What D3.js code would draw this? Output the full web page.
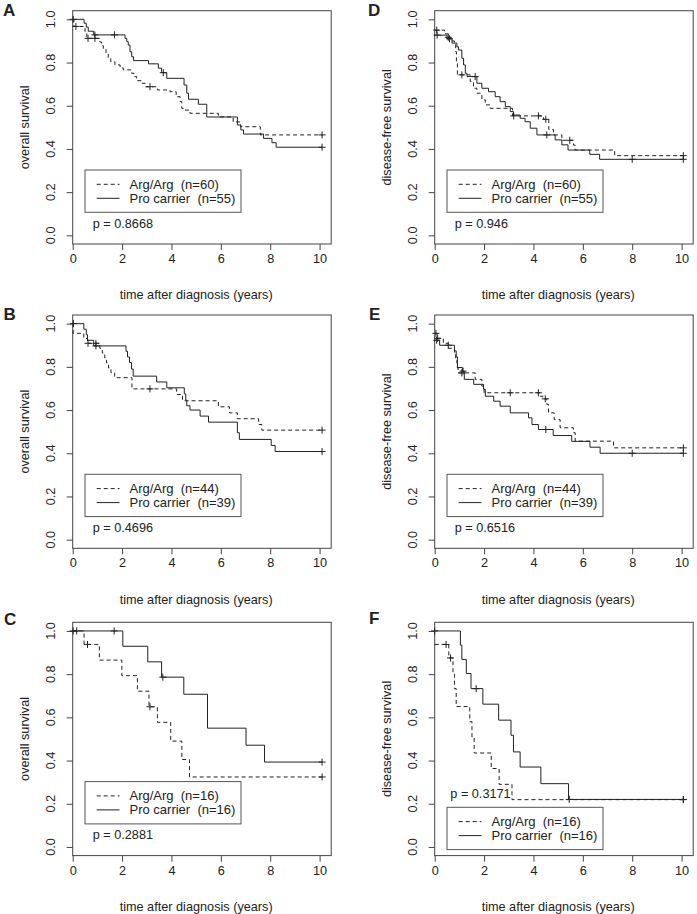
<!DOCTYPE html>
<html><head><meta charset="utf-8">
<script src="https://cdn.jsdelivr.net/npm/d3@7/dist/d3.min.js"></script>
<style>
body{margin:0;background:#fff;}
text{font-family:"Liberation Sans",Arial,sans-serif;fill:#222;}
</style></head>
<body>
<script>
// ---------- data (time in years, survival proportion) ----------
const groupLabels = ["Arg/Arg", "Pro carrier"];
const xTicks = [0, 2, 4, 6, 8, 10];
const yTicks = [0, 0.2, 0.4, 0.6, 0.8, 1.0];

const A_arg = [[0,1],[0.05,0.967],[0.5,0.943],[0.57,0.912],[1.1,0.895],[1.17,0.878],[1.24,0.862],[1.35,0.84],[1.44,0.82],[1.54,0.804],[1.71,0.789],[1.92,0.775],[2.05,0.766],[2.39,0.75],[2.48,0.735],[2.59,0.716],[2.8,0.704],[2.93,0.688],[3.43,0.673],[3.94,0.665],[4.19,0.642],[4.35,0.619],[4.42,0.588],[4.48,0.58],[4.75,0.565],[5.9,0.548],[6.5,0.525],[6.8,0.503],[7.6,0.465]];
const A_argCens = [0.13, 0.62, 0.9, 3.13, 10.1];
const A_pro = [[0,1],[0.46,0.982],[0.55,0.964],[0.63,0.945],[0.85,0.928],[2.12,0.912],[2.19,0.897],[2.25,0.881],[2.32,0.85],[2.39,0.827],[2.46,0.809],[3.07,0.794],[3.47,0.774],[3.6,0.753],[3.81,0.727],[4.51,0.696],[4.62,0.658],[4.69,0.63],[5.09,0.607],[5.43,0.548],[6.67,0.511],[6.81,0.488],[6.92,0.469],[7.73,0.449],[8.07,0.429],[8.24,0.408]];
const A_proCens = [0.02, 0.9, 1.69, 3.67, 10.1];

const B_arg = [[0,1],[0.02,0.955],[0.45,0.932],[0.6,0.909],[1.1,0.886],[1.2,0.864],[1.3,0.841],[1.37,0.818],[1.45,0.795],[1.55,0.773],[1.7,0.75],[2.4,0.698],[4.21,0.672],[4.45,0.643],[5.9,0.615],[6.35,0.587],[6.67,0.56],[7.53,0.533],[7.66,0.507]];
const B_argCens = [0.62, 0.94, 3.13, 10.1];
const B_pro = [[0,1],[0.45,0.974],[0.55,0.949],[0.6,0.923],[0.85,0.897],[2.16,0.872],[2.22,0.846],[2.3,0.82],[2.38,0.79],[2.45,0.757],[3.4,0.73],[3.81,0.703],[4.52,0.675],[4.58,0.646],[4.62,0.62],[4.75,0.6],[5.16,0.572],[5.5,0.544],[6.67,0.495],[6.75,0.464],[8.04,0.436],[8.2,0.408]];
const B_proCens = [0.03, 0.94, 10.1];

const C_arg = [[0,1],[0.46,0.9375],[1.08,0.865],[1.99,0.793],[2.62,0.721],[3.09,0.649],[3.43,0.577],[3.97,0.49],[4.42,0.405],[4.73,0.324]];
const C_argCens = [0.6, 3.13, 10.1];
const C_pro = [[0,1],[2.03,0.929],[3.04,0.857],[3.6,0.786],[4.5,0.707],[5.46,0.55],[7.02,0.471],[7.77,0.393]];
const C_proCens = [0.02, 0.16, 1.68, 3.65, 10.1];

const D_arg = [[0,0.95],[0.4,0.933],[0.55,0.917],[0.65,0.9],[0.8,0.883],[0.85,0.85],[0.88,0.8],[0.92,0.743],[1.44,0.712],[1.57,0.681],[1.71,0.658],[1.91,0.627],[2.05,0.604],[2.25,0.588],[3.15,0.553],[4.41,0.537],[4.62,0.49],[4.81,0.465],[5.15,0.44],[5.62,0.418],[5.69,0.395],[7.29,0.369]];
const D_argCens = [0.08, 0.55, 1.1, 3.2, 4.2, 4.5, 5.47, 10.07];
const D_pro = [[0,0.927],[0.5,0.91],[0.7,0.89],[0.9,0.873],[0.96,0.858],[1.1,0.82],[1.17,0.789],[1.24,0.75],[1.31,0.735],[1.71,0.704],[1.91,0.681],[2.18,0.665],[2.45,0.642],[2.65,0.619],[2.86,0.596],[3.06,0.573],[3.19,0.557],[3.46,0.542],[3.66,0.526],[3.87,0.496],[4.14,0.465],[4.88,0.442],[5.15,0.419],[5.4,0.395],[6.28,0.375],[6.68,0.352]];
const D_proCens = [0.1, 0.6, 1.64, 4.54, 8.0, 10.07];

const E_arg = [[0,0.955],[0.1,0.932],[0.35,0.909],[0.55,0.886],[0.8,0.864],[0.85,0.841],[0.9,0.818],[0.92,0.795],[0.95,0.772],[1.64,0.742],[1.91,0.711],[2.0,0.68],[4.27,0.664],[4.38,0.652],[4.54,0.626],[4.61,0.587],[4.84,0.556],[5.08,0.518],[5.62,0.495],[5.69,0.456],[7.24,0.425]];
const E_argCens = [0.05, 0.12, 1.1, 3.06, 4.2, 4.48, 10.07];
const E_pro = [[0,0.923],[0.2,0.9],[0.8,0.874],[0.87,0.846],[0.92,0.797],[1.12,0.78],[1.2,0.742],[1.58,0.719],[1.98,0.696],[2.05,0.664],[2.39,0.641],[2.65,0.618],[3.06,0.587],[3.8,0.564],[3.94,0.533],[4.2,0.51],[4.8,0.482],[5.55,0.455],[6.29,0.428],[6.7,0.4]];
const E_proCens = [0.08, 0.55, 1.15, 4.5, 8.0, 10.07];

const F_arg = [[0,0.9375],[0.57,0.875],[0.74,0.8],[0.8,0.733],[0.87,0.65],[1.42,0.58],[1.51,0.509],[1.6,0.435],[2.29,0.363],[2.61,0.29],[3.13,0.219]];
const F_argCens = [0.46, 0.64, 10.07];
const F_pro = [[0,1],[1.04,0.934],[1.1,0.868],[1.28,0.803],[1.47,0.733],[1.95,0.661],[2.59,0.587],[3.09,0.517],[3.19,0.44],[3.46,0.37],[4.3,0.293],[5.42,0.22]];
const F_proCens = [0.0, 1.68, 5.45, 10.07];

const panelLetters = ["A","B","C","D","E","F"];
const yTitles = ["overall survival","overall survival","overall survival","disease-free survival","disease-free survival","disease-free survival"];
const pValues = ["p = 0.8668","p = 0.4696","p = 0.2881","p = 0.946","p = 0.6516","p = 0.3171"];
const nArg = [60, 44, 16, 60, 44, 16];
const nPro = [55, 39, 16, 55, 39, 16];
const argCurves = [A_arg, B_arg, C_arg, D_arg, E_arg, F_arg];
const argCens = [A_argCens, B_argCens, C_argCens, D_argCens, E_argCens, F_argCens];
const proCurves = [A_pro, B_pro, C_pro, D_pro, E_pro, F_pro];
const proCens = [A_proCens, B_proCens, C_proCens, D_proCens, E_proCens, F_proCens];

// ---------- layout ----------
const W = 697, H = 914;
const colLeft = [72.7, 434.7];
const rowTop = [10.7, 315, 622.3];
const boxW = 258.5, boxH = 233.3;
const letterPos = [[3,15.5],[3.5,320],[4,624.5],[368,15.5],[369,320],[369,624]];
const fs = 12.7;

const svg = d3.select("body").append("svg").attr("width", W).attr("height", H);

function survAt(steps, t){
  let v = steps[0][1];
  for (const s of steps){ if (s[0] <= t) v = s[1]; }
  return v;
}

for (let i = 0; i < 6; i++){
  const col = Math.floor(i/3), row = i % 3;
  const L = colLeft[col], T = rowTop[row];
  const g = svg.append("g");
  const x = d3.scaleLinear().domain([0, 10.47]).range([L, L + boxW]);
  const y = d3.scaleLinear().domain([-0.04, 1.04]).range([T + boxH, T]);

  // box
  g.append("rect").attr("x", L).attr("y", T).attr("width", boxW).attr("height", boxH)
    .attr("fill","none").attr("stroke","#444").attr("stroke-width",1);

  // x axis
  const xa = g.append("g").attr("transform", `translate(0,${T+boxH})`)
    .call(d3.axisBottom(x).tickValues(xTicks).tickSize(6).tickPadding(4).tickFormat(d3.format("d")));
  xa.select(".domain").remove();
  xa.selectAll("line").attr("stroke","#444");
  xa.selectAll("text").attr("font-size",fs).attr("fill","#222")
    .style("font-family",'"Liberation Sans",Arial,sans-serif');

  // y axis
  const ya = g.append("g").attr("transform", `translate(${L},0)`)
    .call(d3.axisLeft(y).tickValues(yTicks).tickSize(6).tickFormat(d3.format(".1f")));
  ya.select(".domain").remove();
  ya.selectAll("line").attr("stroke","#444");
  ya.selectAll("text").remove();
  g.selectAll(".ylab").data(yTicks).join("text")
    .attr("transform", d => `translate(${L-22},${y(d)}) rotate(-90)`)
    .attr("dy","0.35em").attr("text-anchor","middle").attr("font-size",fs)
    .text(d3.format(".1f"));

  // titles
  g.append("text").attr("x", L + (x(10)-x(0))/2).attr("y", T + boxH + 51).attr("dy","0.35em")
    .attr("text-anchor","middle").attr("font-size",fs).text("time after diagnosis (years)");
  g.append("text").attr("transform", `translate(${L-48},${T+boxH/2}) rotate(-90)`)
    .attr("dy","0.35em").attr("text-anchor","middle").attr("font-size",fs).text(yTitles[i]);

  // panel letter
  g.append("text").attr("x", letterPos[i][0]).attr("y", letterPos[i][1])
    .attr("font-size",17).attr("font-weight","bold").attr("fill","#111").text(panelLetters[i]);

  // curves
  const line = d3.line().x(d => x(d[0])).y(d => y(d[1])).curve(d3.curveStepAfter);
  const curves = [
    {steps: argCurves[i], cens: argCens[i], dash: "4,3"},
    {steps: proCurves[i], cens: proCens[i], dash: null}
  ];
  curves.forEach(c => {
    const tEnd = d3.max(c.cens);
    const pts = c.steps.concat([[tEnd, c.steps[c.steps.length-1][1]]]);
    g.append("path").attr("d", line(pts)).attr("fill","none")
      .attr("stroke","#222").attr("stroke-width",1)
      .attr("stroke-dasharray", c.dash);
    g.selectAll(null).data(c.cens).join("path")
      .attr("d", t => {
        const cx = x(t), cy = y(survAt(c.steps, t)), r = 3.5;
        return `M${cx-r},${cy}H${cx+r}M${cx},${cy-r}V${cy+r}`;
      })
      .attr("stroke","#222").attr("stroke-width",1);
  });

  // legend
  const legTop = T + (i === 5 ? 185 : 159.3);
  const legL = L + 12.3;
  g.append("rect").attr("x", legL).attr("y", legTop).attr("width", 156).attr("height", 42.3)
    .attr("fill","#fff").attr("stroke","#555").attr("stroke-width",1);
  const legItems = [
    {label: `${groupLabels[0]}  (n=${nArg[i]})`, dash: "4,3"},
    {label: `${groupLabels[1]}  (n=${nPro[i]})`, dash: null}
  ];
  legItems.forEach((it, k) => {
    const ly = legTop + 14.3 + k*14;
    g.append("line").attr("x1", legL + 11.7).attr("x2", legL + 34.5).attr("y1", ly).attr("y2", ly)
      .attr("stroke","#222").attr("stroke-width",1).attr("stroke-dasharray", it.dash);
    g.append("text").attr("x", legL + 44.5).attr("y", ly).attr("dy","0.35em")
      .attr("font-size",13).style("white-space","pre").text(it.label);
  });

  // p value
  const px = L + (i === 5 ? 15.6 : 20), py = T + (i === 5 ? 171 : 212.6);
  g.append("text").attr("x", px).attr("y", py).attr("dy","0.35em").attr("font-size",fs).text(pValues[i]);
}
</script>
</body></html>
